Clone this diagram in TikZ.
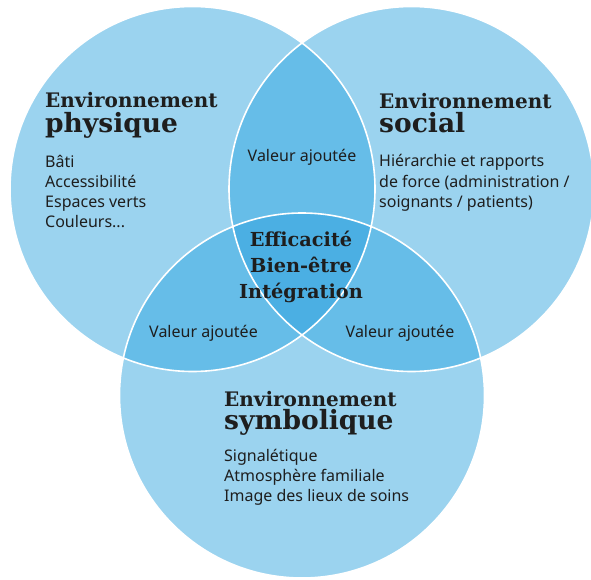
\documentclass[tikz,border=0pt]{standalone}
\usepackage{fontspec}
\setmainfont{Noto Sans}
\newfontfamily\slab{DejaVu Serif}
\usetikzlibrary{positioning}

\definecolor{outerblue}{HTML}{9BD3EF}
\definecolor{lensblue}{HTML}{66BDE8}
\definecolor{coreblue}{HTML}{4BAFE3}
\definecolor{ink}{HTML}{1E1E1E}

\begin{document}
\begin{tikzpicture}[x=1pt, y=-1pt,
  head/.style={font=\slab\bfseries\fontsize{20}{20}\selectfont, text=ink, inner sep=0pt, anchor=base west},
  kind/.style={font=\slab\bfseries\fontsize{26.5}{26.5}\selectfont, text=ink, inner sep=0pt, anchor=base west},
  items/.style={font=\fontsize{16}{20}\selectfont, text=ink, align=left, inner sep=0pt, anchor=base west},
  gain/.style={font=\fontsize{16}{16}\selectfont, text=ink, inner sep=0pt, anchor=base},
  border/.style={draw=white, line width=1.6pt}]
\useasboundingbox (0,0) rectangle (591,580);
\def\rad{182.5}
% circle centres
\coordinate (phys) at (192.5,189);
\coordinate (soc) at (411.5,189);
\coordinate (symb) at (302,395.5);

% fills
\fill[outerblue] (phys) circle[radius=\rad] (soc) circle[radius=\rad] (symb) circle[radius=\rad];
\begin{scope}
  \clip (phys) circle[radius=\rad];
  \fill[lensblue] (soc) circle[radius=\rad] (symb) circle[radius=\rad];
\end{scope}
\begin{scope}
  \clip (soc) circle[radius=\rad];
  \fill[lensblue] (symb) circle[radius=\rad];
\end{scope}
\begin{scope}
  \clip (phys) circle[radius=\rad];
  \clip (soc) circle[radius=\rad];
  \fill[coreblue] (symb) circle[radius=\rad];
\end{scope}
\draw[border] (phys) circle[radius=\rad] (soc) circle[radius=\rad] (symb) circle[radius=\rad];

% physique
\node[head] (physHead) at (45,108) {Environnement};
\node[kind] (physName) at (45,133) {physique};
\node[items] (physList) at (45,227) {Bâti\\Accessibilité\\Espaces verts\\Couleurs...};

% social
\node[head] (socHead) at (379,109) {Environnement};
\node[kind] (socName) at (379,133) {social};
\node[items] (socList) at (379,207) {Hiérarchie et rapports\\de force (administration /\\soignants / patients)};

% symbolique
\node[head] (symbHead) at (224,406) {Environnement};
\node[kind] (symbName) at (224,429) {symbolique};
\node[items] (symbList) at (224,501) {Signalétique\\Atmosphère familiale\\Image des lieux de soins};

% overlaps
\node[gain] (gainTop) at (302,161) {Valeur ajoutée};
\node[gain] (gainLeft) at (203.5,337) {Valeur ajoutée};
\node[gain] (gainRight) at (400,337) {Valeur ajoutée};
\node[font=\slab\bfseries\fontsize{19.3}{26}\selectfont, text=ink, align=center, inner sep=0pt] (core) at (301,267) {Efficacité\\Bien-être\\Intégration};
\end{tikzpicture}
\end{document}
